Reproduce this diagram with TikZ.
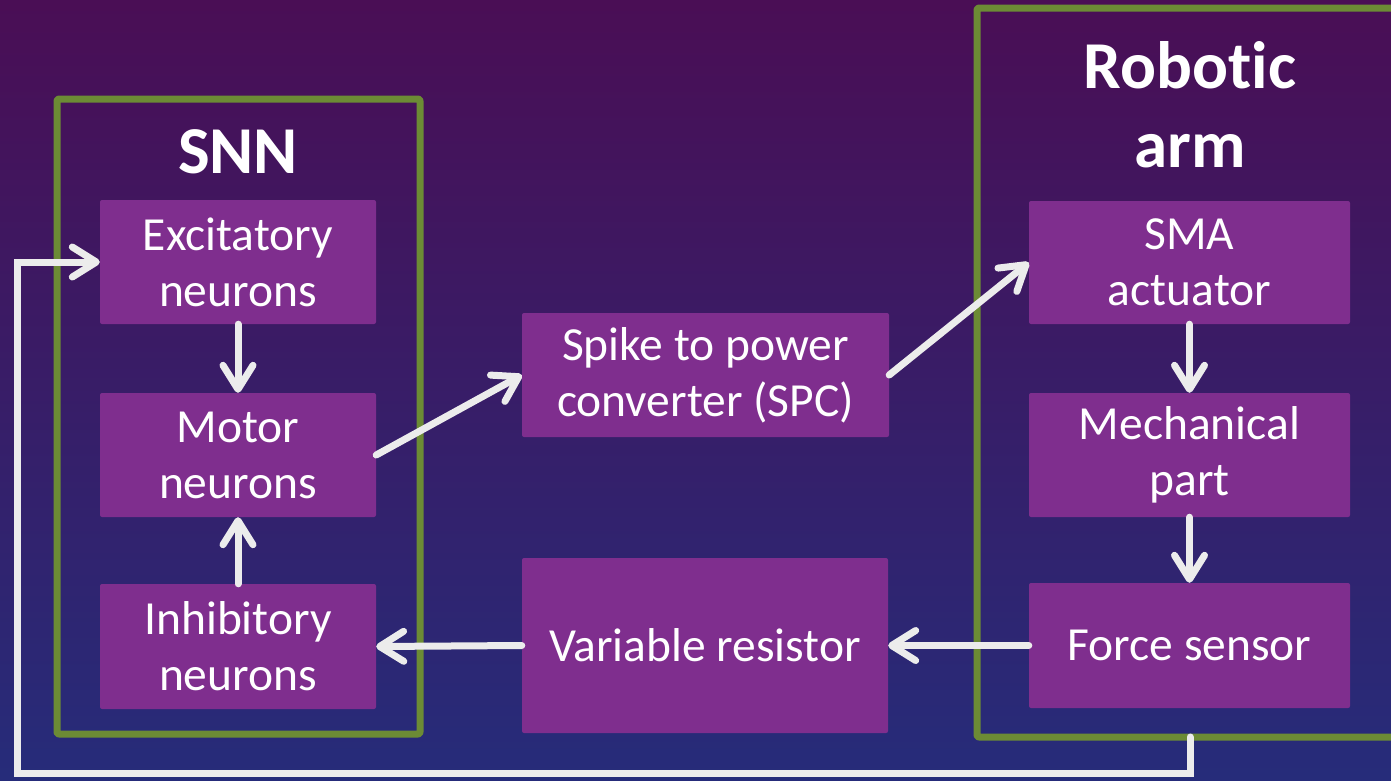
\documentclass[tikz,border=0pt]{standalone}
\usepackage{fontspec}
\setmainfont[Ligatures=NoCommon]{Carlito}
\usetikzlibrary{arrows.meta}

\definecolor{bgtop}{HTML}{4A0E55}
\definecolor{bgmid}{HTML}{3A1968}
\definecolor{bgbot}{HTML}{262C7A}
\definecolor{boxc}{HTML}{7F2E8E}
\definecolor{framec}{HTML}{6C8B35}
\definecolor{arrowc}{HTML}{ECECEC}

\tikzset{
  block/.style={fill=boxc, rounded corners=2pt, text=white, align=center,
    inner sep=0pt, font=\fontsize{47.5}{56}\selectfont},
  group/.style={draw=framec, line width=7pt, rounded corners=2pt, line join=round},
  title/.style={text=white, align=center, inner sep=0pt,
    font=\fontsize{67}{79}\selectfont\bfseries},
  flow/.style={draw=arrowc, line width=7pt, line cap=round, line join=miter,
    -{Straight Barb[length=24pt, width=30pt, line cap=round, line join=round]}},
}

\begin{document}
\begin{tikzpicture}[x=1pt, y=-1pt]
  \useasboundingbox (0,0) rectangle (1391,780);
  % night-sky background
  \shade[top color=bgtop, middle color=bgmid, bottom color=bgbot] (0,0) rectangle (1391,780);

  % group frames
  \draw[group] (57,99) rectangle (420,734);
  \draw[group] (977,8) rectangle (1410,737);
  \coordinate (fb) at (1190,737);

  % titles
  \node[title] (snn) at (238,152) {SNN};
  \node[title] (arm) at (1190,105) {Robotic\\arm};

  % SNN blocks
  \node[block, minimum width=276pt, minimum height=124pt] (exc) at (238,262) {Excitatory\\neurons};
  \node[block, minimum width=276pt, minimum height=124pt] (mot) at (238,455) {Motor\\neurons};
  \node[block, minimum width=276pt, minimum height=125pt] (inh) at (238,646.5) {Inhibitory\\neurons};

  % middle blocks
  \node[block, minimum width=367pt, minimum height=124pt] (spc) at (705.5,375) {Spike to power\\converter (SPC)};
  \node[block, minimum width=366pt, minimum height=175pt] (vr) at (705,645.5) {Variable resistor};

  % robotic arm blocks
  \node[block, minimum width=321pt, minimum height=123pt] (sma) at (1189.5,262.5) {SMA\\actuator};
  \node[block, minimum width=321pt, minimum height=124pt] (mech) at (1189.5,455) {Mechanical\\part};
  \node[block, minimum width=321pt, minimum height=125pt] (force) at (1189.5,645.5) {Force sensor};

  % connectors
  \draw[flow] (exc.south) -- (mot.north);
  \draw[flow] (inh.north) -- (mot.south);
  \draw[flow] (mot.east) -- (spc.west);
  \draw[flow] (spc.east) -- (sma.west);
  \draw[flow] (sma.south) -- (mech.north);
  \draw[flow] (mech.south) -- (force.north);
  \draw[flow] (force.west) -- (vr.east);
  \draw[flow] (vr.west) -- (inh.east);
  \draw[flow] (fb) |- (17,773) |- (exc.west);
\end{tikzpicture}
\end{document}
